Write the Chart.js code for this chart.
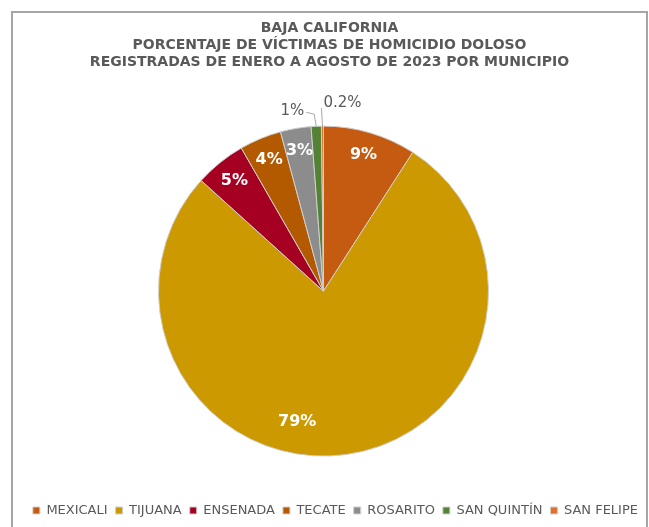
<!DOCTYPE html>
<html>
<head>
<meta charset="utf-8">
<script src="https://cdn.jsdelivr.net/npm/chart.js@4"></script>
<style>
  html, body { margin: 0; padding: 0; background: #fff; overflow: hidden; }
  #frame {
    position: absolute; left: 11px; top: 11px;
    width: 633px; height: 530px;
    border: 2px solid #a6a6a6; border-bottom: none;
  }
  #box { position: relative; width: 633px; height: 514px; }
</style>
</head>
<body>
<div id="frame"><div id="box"><canvas id="pie_canvas"></canvas></div></div>
<script>
// Data
var municipios = ['MEXICALI', 'TIJUANA', 'ENSENADA', 'TECATE', 'ROSARITO', 'SAN QUINTÍN', 'SAN FELIPE'];
var porcentajes = [9.1, 77.6, 5.0, 4.1, 3.0, 1.0, 0.2];
var etiquetas = ['9%', '79%', '5%', '4%', '3%', '1%', '0.2%'];
var colores = ['#C55A11', '#CC9900', '#A50021', '#B35A00', '#8C8C8C', '#548235', '#E2702A'];
var titulo = [
    'BAJA CALIFORNIA',
    'PORCENTAJE DE VÍCTIMAS DE HOMICIDIO DOLOSO',
    'REGISTRADAS DE ENERO A AGOSTO DE 2023 POR MUNICIPIO'
];

var gris = '#595959';

// nudge the pie a bit left, the title stays centered
const shiftPie = {
    id: 'shiftPie',
    afterLayout: function(chart) {
        chart.chartArea.right -= 12;
        chart.chartArea.width = chart.chartArea.right - chart.chartArea.left;
    }
};

// percent labels, inside for big slices, outside with leader lines for tiny ones
const pctLabels = {
    id: 'pctLabels',
    afterDatasetsDraw: function(chart) {
        const ctx = chart.ctx;
        const arcs = chart.getDatasetMeta(0).data;
        ctx.save();
        arcs.forEach(function(arc, i) {
            const p = arc.getProps(['x', 'y', 'startAngle', 'endAngle', 'outerRadius'], true);
            var mid = (p.startAngle + p.endAngle) / 2;
            const r = p.outerRadius;
            if (i < 5) {
                var f = 0.86;
                if (i == 1) { f = 0.81; mid += 0.33; } // Excel puts the big one off-centre
                const tx = p.x + Math.cos(mid) * r * f;
                const ty = p.y + Math.sin(mid) * r * f;
                ctx.fillStyle = '#ffffff';
                ctx.font = 'bold 16px "DejaVu Sans"';
                ctx.textAlign = 'center';
                ctx.textBaseline = 'middle';
                ctx.fillText(etiquetas[i], tx, ty);
            } else {
                const ax = p.x + Math.cos(mid) * r;
                const ay = p.y + Math.sin(mid) * r;
                ctx.strokeStyle = '#a6a6a6';
                ctx.lineWidth = 1;
                ctx.fillStyle = gris;
                ctx.font = '15px "DejaVu Sans"';
                ctx.textBaseline = 'middle';
                ctx.beginPath();
                if (i == 5) {
                    ctx.moveTo(ax, ay);
                    ctx.lineTo(ax - 2, ay - 12);
                    ctx.lineTo(ax - 10, ay - 14);
                    ctx.stroke();
                    ctx.textAlign = 'right';
                    ctx.fillText(etiquetas[i], ax - 12, ay - 15);
                } else {
                    ctx.moveTo(ax, ay);
                    ctx.lineTo(ax - 1, ay - 18);
                    ctx.stroke();
                    ctx.textAlign = 'left';
                    ctx.fillText(etiquetas[i], ax + 1, ay - 23);
                }
            }
        });
        ctx.restore();
    }
};

var canvas = document.getElementById('pie_canvas');
const ctx = canvas.getContext('2d');

var chart = new Chart(ctx, {
    type: 'pie',
    data: {
        labels: municipios,
        datasets: [{
            data: porcentajes,
            backgroundColor: colores,
            borderColor: '#cfcfcf',
            borderWidth: 1,
            radius: 165
        }]
    },
    options: {
        responsive: true,
        maintainAspectRatio: false,
        animation: false,
        layout: { padding: 0 },
        plugins: {
            title: {
                display: true,
                text: titulo,
                color: gris,
                font: { family: '"DejaVu Sans"', size: 14, weight: 'bold', lineHeight: 1.22 },
                padding: { top: 7, bottom: 15 }
            },
            legend: {
                display: true,
                position: 'bottom',
                align: 'end',
                labels: {
                    color: gris,
                    font: { family: '"DejaVu Sans"', size: 13 },
                    boxWidth: 7,
                    boxHeight: 7,
                    padding: 8
                }
            },
            tooltip: { enabled: false }
        }
    },
    plugins: [shiftPie, pctLabels]
});
</script>
</body>
</html>
